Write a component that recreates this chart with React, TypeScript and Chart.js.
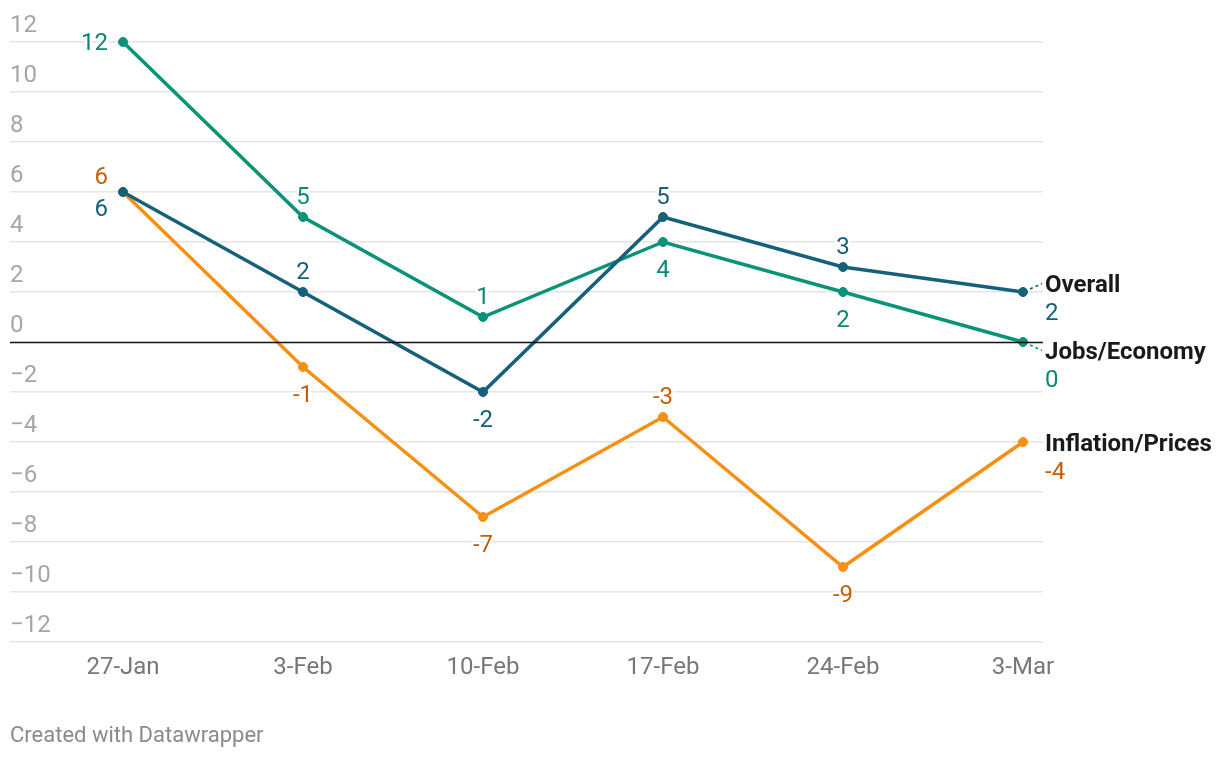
import React, { useEffect, useRef } from 'react';
import { Chart, registerables } from 'chart.js';

Chart.register(...registerables);

// ---- data ----
const categories = ['27-Jan', '3-Feb', '10-Feb', '17-Feb', '24-Feb', '3-Mar'];
const overall = [6, 2, -2, 5, 3, 2];
const jobsEconomy = [12, 5, 1, 4, 2, 0];
const inflationPrices = [6, -1, -7, -3, -9, -4];
const seriesNames = ['Overall', 'Jobs/Economy', 'Inflation/Prices'];
const yTickValues = [-12, -10, -8, -6, -4, -2, 0, 2, 4, 6, 8, 10, 12];
const footerText = 'Created with Datawrapper';

// ---- styles ----
const FONT = 'Roboto, "Noto Sans", sans-serif';
const FS = 24;
const lineColors = ['#15607a', '#0a9378', '#f78f12'];
const labelColors = ['#15607a', '#0a8a70', '#c45f06'];
// label placement for each point except the last (last gets a right-side label)
const labelPlacement = [
  ['leftBelow', 'above', 'below', 'above', 'above'],
  ['left', 'above', 'above', 'below', 'below'],
  ['leftAbove', 'below', 'below', 'above', 'below'],
];

const fmt = (v: number) => (v < 0 ? '-' + Math.abs(v) : String(v));
const fmtTick = (v: number) => (v < 0 ? '\u2212' + Math.abs(v) : String(v));

const dwPlugin = {
  id: 'dwPlugin',
  beforeDatasetsDraw(chart: any) {
    const { ctx, chartArea } = chart;
    const y = chart.scales.y;
    ctx.save();
    ctx.font = `400 ${FS}px ${FONT}`;
    ctx.fillStyle = '#a6a6a6';
    ctx.textAlign = 'left';
    ctx.textBaseline = 'alphabetic';
    yTickValues.forEach((v) => {
      ctx.fillText(fmtTick(v), chartArea.left, y.getPixelForValue(v) - 10);
    });
    ctx.restore();
  },
  afterDatasetsDraw(chart: any) {
    const { ctx, chartArea } = chart;
    const yScale = chart.scales.y;
    ctx.save();
    // zero line
    const y0 = Math.round(yScale.getPixelForValue(0)) + 0.5;
    ctx.strokeStyle = '#111';
    ctx.lineWidth = 1.5;
    ctx.beginPath();
    ctx.moveTo(chartArea.left, y0);
    ctx.lineTo(chartArea.right, y0);
    ctx.stroke();

    ctx.font = `400 ${FS}px ${FONT}`;
    ctx.textBaseline = 'alphabetic';
    ctx.lineJoin = 'round';
    const drawLabel = (text: string, x: number, y: number, align: CanvasTextAlign, color: string) => {
      ctx.textAlign = align;
      ctx.strokeStyle = '#fff';
      ctx.lineWidth = 5;
      ctx.strokeText(text, x, y);
      ctx.fillStyle = color;
      ctx.fillText(text, x, y);
    };

    const ends: { di: number; px: number; py: number; y: number }[] = [];
    chart.data.datasets.forEach((ds: any, di: number) => {
      const meta = chart.getDatasetMeta(di);
      const n = ds.data.length;
      meta.data.forEach((pt: any, i: number) => {
        const v = ds.data[i].y;
        if (i === n - 1) {
          ends.push({ di, px: pt.x, py: pt.y, y: pt.y });
          return;
        }
        const place = labelPlacement[di][i];
        const t = fmt(v);
        const c = labelColors[di];
        if (place === 'above') drawLabel(t, pt.x, pt.y - 13.5, 'center', c);
        else if (place === 'below') drawLabel(t, pt.x, pt.y + 34.5, 'center', c);
        else if (place === 'left') drawLabel(t, pt.x - 15, pt.y + 8, 'right', c);
        else if (place === 'leftAbove') drawLabel(t, pt.x - 15, pt.y - 8.5, 'right', c);
        else if (place === 'leftBelow') drawLabel(t, pt.x - 15, pt.y + 23.5, 'right', c);
      });
    });

    // right-side labels with simple collision avoidance
    ends.sort((a, b) => a.py - b.py);
    const minGap = 67;
    for (let iter = 0; iter < 50; iter++) {
      let moved = false;
      for (let k = 0; k < ends.length - 1; k++) {
        const a = ends[k], b = ends[k + 1];
        const d = b.y - a.y;
        if (d < minGap) {
          const push = (minGap - d) / 2;
          a.y -= push;
          b.y += push;
          moved = true;
        }
      }
      if (!moved) break;
    }
    const lx = chartArea.right + 2;
    ends.forEach((e) => {
      const ds = chart.data.datasets[e.di];
      const v = ds.data[ds.data.length - 1].y;
      if (Math.abs(e.y - e.py) > 2) {
        ctx.save();
        ctx.strokeStyle = lineColors[e.di];
        ctx.lineWidth = 1.5;
        ctx.setLineDash([3, 3]);
        ctx.beginPath();
        ctx.moveTo(e.px + 7, e.py + (e.y - e.py) * 0.35);
        ctx.lineTo(lx - 3, e.y);
        ctx.stroke();
        ctx.restore();
      }
      ctx.font = `700 ${FS}px ${FONT}`;
      drawLabel(seriesNames[e.di], lx, e.y + 8.5, 'left', '#1a1a1a');
      ctx.font = `400 ${FS}px ${FONT}`;
      drawLabel(fmt(v), lx, e.y + 36.5, 'left', labelColors[e.di]);
    });
    ctx.restore();
  },
};

export default function App() {
  const ref = useRef<HTMLCanvasElement | null>(null);

  useEffect(() => {
    document.body.style.margin = '0';
    let chart: Chart | null = null;
    let cancelled = false;
    const build = () => {
      if (cancelled || !ref.current) return;
      const series = [overall, jobsEconomy, inflationPrices];
      chart = new Chart(ref.current, {
        type: 'line',
        data: {
          datasets: series.map((vals, di) => ({
            label: seriesNames[di],
            data: vals.map((v, i) => ({ x: i, y: v })),
            borderColor: lineColors[di],
            backgroundColor: lineColors[di],
            pointBackgroundColor: lineColors[di],
            pointBorderColor: lineColors[di],
            borderWidth: 3.5,
            pointRadius: 4.5,
            pointBorderWidth: 1,
            tension: 0,
            fill: false,
            clip: false as any,
          })),
        },
        options: {
          animation: false,
          responsive: false,
          devicePixelRatio: 1,
          layout: { padding: { left: 10, right: 177, top: 42, bottom: 56 } },
          plugins: {
            legend: { display: false },
            tooltip: { enabled: false },
          },
          scales: {
            x: {
              type: 'linear',
              min: -113 / 180,
              max: 5 + 20 / 180,
              grid: { display: false, drawTicks: false },
              border: { display: false },
              afterBuildTicks: (axis: any) => {
                axis.ticks = categories.map((_, i) => ({ value: i }));
              },
              afterFit: (axis: any) => {
                axis.height = 60;
              },
              ticks: {
                autoSkip: false,
                maxRotation: 0,
                padding: 12,
                color: '#777',
                font: { family: FONT, size: FS },
                callback: (v: any) => categories[v as number] ?? '',
              },
            },
            y: {
              min: -12,
              max: 12,
              afterBuildTicks: (axis: any) => {
                axis.ticks = yTickValues.map((v) => ({ value: v }));
              },
              afterFit: (axis: any) => {
                axis.width = 0;
              },
              grid: {
                color: (c: any) => (c.tick && c.tick.value === 0 ? 'rgba(0,0,0,0)' : '#e4e4e4'),
                lineWidth: 1.5,
                drawTicks: false,
              },
              border: { display: false },
              ticks: { display: false },
            },
          },
        },
        plugins: [dwPlugin],
      });
    };
    const fonts: any = (document as any).fonts;
    if (fonts && fonts.load) {
      Promise.all([fonts.load(`400 ${FS}px Roboto`), fonts.load(`700 ${FS}px Roboto`)])
        .catch(() => {})
        .then(build);
    } else build();
    return () => {
      cancelled = true;
      if (chart) chart.destroy();
    };
  }, []);

  return (
    <div style={{ position: 'fixed', left: 0, top: 0, width: 1220, height: 758, background: '#fff' }}>
      <canvas ref={ref} width={1220} height={758} style={{ position: 'absolute', left: 0, top: 0 }} />
      <div
        style={{
          position: 'absolute',
          left: 10,
          top: 721,
          fontFamily: FONT,
          fontSize: 22,
          color: '#8a8a8a',
          lineHeight: '28px',
        }}
      >
        {footerText}
      </div>
    </div>
  );
}
